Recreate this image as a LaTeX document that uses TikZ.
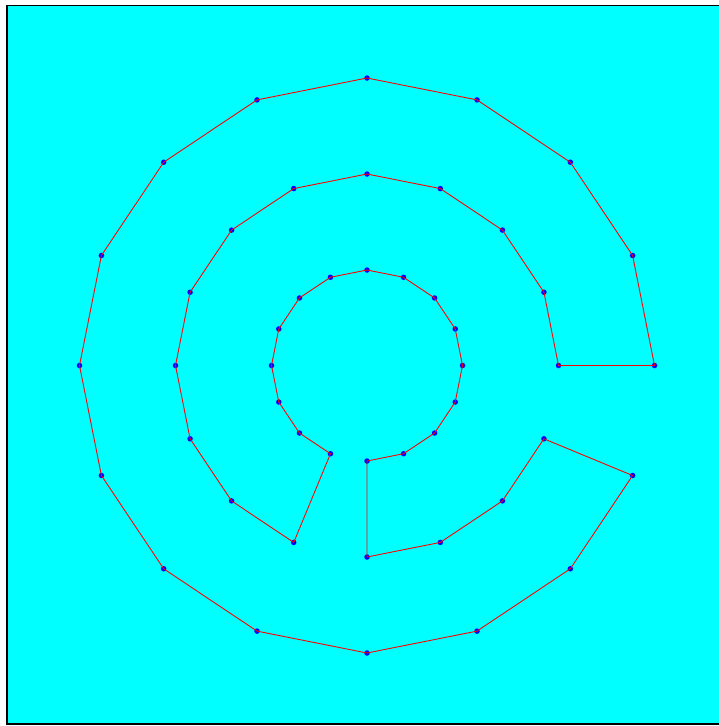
\documentclass[tikz,border=0pt]{standalone}
\usetikzlibrary{calc}
\definecolor{aqua}{RGB}{0,255,255}
\tikzset{
  frame/.style={draw=black,line width=1.6pt,fill=aqua},
  edge/.style={draw=red,line width=0.9pt,line join=round},
  vertex/.style={circle,fill=blue,inner sep=0pt,minimum size=5.5pt},
}
\begin{document}
\begin{tikzpicture}[x=1pt,y=-1pt]
  \useasboundingbox (0,0) rectangle (718,726);
  \fill[white] (0,0) rectangle (718,726);
  \draw[frame] (7,5.5) rectangle (740,724);
  \coordinate (c) at (367,365.5);
  % three rings of sixteen points
  \foreach \n/\r in {i/95.5,m/191.5,o/287.5}
    \foreach \k in {0,...,15}
      \node[vertex] (\n\k) at ($(c)+(\k*22.5:\r pt)$) {};
  \draw[edge] (i12.center)
    \foreach \k in {13,14,15,0,1,...,11} {-- (i\k.center)}
    \foreach \k in {11,10,...,0} {-- (m\k.center)}
    \foreach \k in {0,...,15} {-- (o\k.center)}
    \foreach \k in {15,14,13,12} {-- (m\k.center)}
    -- cycle;
\end{tikzpicture}
\end{document}
